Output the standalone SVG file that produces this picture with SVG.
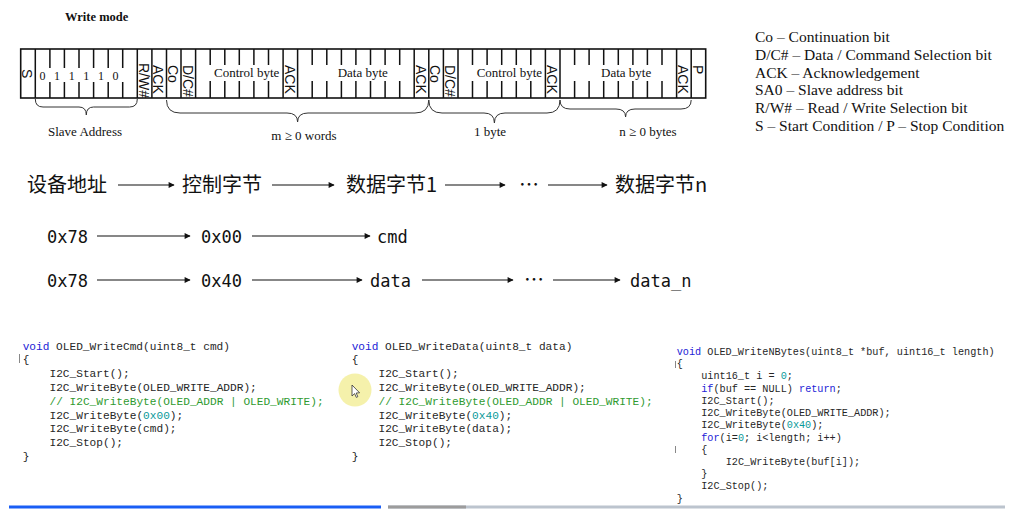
<svg xmlns="http://www.w3.org/2000/svg" width="1014" height="525" viewBox="0 0 1014 525">
<defs>
<style>
.serif{font-family:"Liberation Serif","Times New Roman",serif;fill:#111}
.rot{font-family:"Liberation Sans",Arial,sans-serif;font-size:14px;fill:#111}
.cn{font-family:"Noto Sans CJK SC",sans-serif;font-size:20px;fill:#111}
.mono{font-family:"DejaVu Sans Mono",monospace;font-size:17px;fill:#111}
.code{font-family:"Liberation Mono","Courier New",monospace;font-size:11.15px;fill:#262626}
.code3{font-family:"Liberation Mono","Courier New",monospace;font-size:10.2px;fill:#262626}
.kw{fill:#2323d6}
.num{fill:#0a9a9a}
.cm{fill:#2f9a2f}
.frame{fill:none;stroke:#111;stroke-width:1.6}
.div{stroke:#111;stroke-width:1.5;fill:none}
.brace{fill:none;stroke:#333;stroke-width:1}
.arr{stroke:#111;stroke-width:1.2;fill:none;marker-end:url(#ah)}
</style>
<marker id="ah" viewBox="0 0 10 10" refX="9" refY="5" markerWidth="7" markerHeight="6" markerUnits="userSpaceOnUse" orient="auto">
<path d="M0,0 L10,5 L0,10 z" fill="#111"/>
</marker>
</defs>
<rect width="1014" height="525" fill="#fff"/>

<g id="frame">
<text class="serif" x="65" y="21" font-size="12.5" font-weight="bold">Write mode</text>
<rect class="frame" x="20.7" y="49" width="685" height="49"/>
<path class="div" d="M35.3,49V98 M137.3,49V98 M151.9,49V98 M166.5,49V98 M181,49V98 M195.6,49V98 M283.1,49V98 M297.6,49V98 M414.2,49V98 M428.8,49V98 M443.4,49V98 M458,49V98 M545.4,49V98 M560,49V98 M676.6,49V98 M691.2,49V98"/>
<path class="div" d="M49.9,49V68 M64.4,49V68 M79,49V68 M93.6,49V68 M108.2,49V68 M122.7,49V68 M49.9,82V98 M64.4,82V98 M79,82V98 M93.6,82V98 M108.2,82V98 M122.7,82V98"/>
<path class="div" d="M210.2,49V65 M224.8,49V65 M239.3,49V65 M253.9,49V65 M268.5,49V65 M210.2,81V98 M224.8,81V98 M239.3,81V98 M253.9,81V98 M268.5,81V98"/>
<path class="div" d="M312.2,49V65 M326.8,49V65 M341.4,49V65 M355.9,49V65 M370.5,49V65 M385.1,49V65 M399.7,49V65 M312.2,81V98 M326.8,81V98 M341.4,81V98 M355.9,81V98 M370.5,81V98 M385.1,81V98 M399.7,81V98"/>
<path class="div" d="M472.5,49V65 M487.1,49V65 M501.7,49V65 M516.3,49V65 M530.8,49V65 M472.5,81V98 M487.1,81V98 M501.7,81V98 M516.3,81V98 M530.8,81V98"/>
<path class="div" d="M574.6,49V65 M589.1,49V65 M603.7,49V65 M618.3,49V65 M632.9,49V65 M647.4,49V65 M662,49V65 M574.6,81V98 M589.1,81V98 M603.7,81V98 M618.3,81V98 M632.9,81V98 M647.4,81V98 M662,81V98"/>

<g class="serif" font-size="12" text-anchor="middle">
<text x="42.6" y="80">0</text><text x="57.1" y="80">1</text><text x="71.7" y="80">1</text><text x="86.3" y="80">1</text><text x="100.9" y="80">1</text><text x="115.4" y="80">0</text>
</g>
<g class="serif" font-size="13">
<text x="214" y="77">Control byte</text>
<text x="337.7" y="77">Data byte</text>
<text x="476.7" y="77">Control byte</text>
<text x="601" y="77">Data byte</text>
</g>
<g class="rot">
<text transform="translate(22.4,69) rotate(90)">S</text>
<text transform="translate(138.8,63) rotate(90)">R/W#</text>
<text transform="translate(153.4,65) rotate(90)">ACK</text>
<text transform="translate(168,65) rotate(90)">Co</text>
<text transform="translate(182.5,65) rotate(90)">D/C#</text>
<text transform="translate(284.6,65) rotate(90)">ACK</text>
<text transform="translate(415.7,65) rotate(90)">ACK</text>
<text transform="translate(430.3,65) rotate(90)">Co</text>
<text transform="translate(444.9,65) rotate(90)">D/C#</text>
<text transform="translate(546.9,65) rotate(90)">ACK</text>
<text transform="translate(678.1,65) rotate(90)">ACK</text>
<text transform="translate(692.7,65) rotate(90)">P</text>
</g>
</g>

<g id="braces">
<path class="brace" d="M35.3,99 Q35.3,107 43,107 L79,107 Q86.3,107 86.3,115 Q86.3,107 93.6,107 L129.6,107 Q137.3,107 137.3,99"/>
<path class="brace" d="M166.5,100 Q166.5,113 180,113 L287,113 Q297.6,113 297.6,122 Q297.6,113 308,113 L415,113 Q428.8,113 428.8,100"/>
<path class="brace" d="M428.8,100 Q428.8,113 442,113 L484,113 Q494.4,113 494.4,123 Q494.4,113 505,113 L547,113 Q560,113 560,100"/>
<path class="brace" d="M560,100 Q560,109 570,109 L616,109 Q625.6,109 625.6,117 Q625.6,109 635,109 L681,109 Q691.2,109 691.2,100"/>
<g class="serif" font-size="13" text-anchor="middle">
<text x="85" y="136">Slave Address</text>
<text x="304" y="140">m ≥ 0 words</text>
<text x="490" y="136">1 byte</text>
<text x="648" y="136">n  ≥  0 bytes</text>
</g>
</g>

<g id="legend" class="serif" font-size="15.5">
<text x="755" y="42">Co – Continuation bit</text>
<text x="755" y="59.8">D/C# – Data / Command Selection bit</text>
<text x="755" y="77.6">ACK – Acknowledgement</text>
<text x="755" y="95.4">SA0 – Slave address bit</text>
<text x="755" y="113.2">R/W# – Read / Write Selection bit</text>
<text x="755" y="131">S – Start Condition / P – Stop Condition</text>
</g>

<g id="flow1">
<g id="n-addr"><text class="cn" x="27" y="192">设备地址</text></g>
<g id="n-ctrl"><text class="cn" x="182" y="192">控制字节</text></g>
<g id="n-data1"><text class="cn" x="346" y="192">数据字节1</text></g>
<g id="n-dots1"><text class="cn" x="519" y="192">…</text></g>
<g id="n-datan"><text class="cn" x="615" y="192">数据字节n</text></g>
</g>
<g id="flow2">
<g id="n-78a"><text class="mono" x="47" y="243">0x78</text></g>
<g id="n-00"><text class="mono" x="201" y="243">0x00</text></g>
<g id="n-cmd"><text class="mono" x="377" y="243">cmd</text></g>
</g>
<g id="flow3">
<g id="n-78b"><text class="mono" x="47" y="287">0x78</text></g>
<g id="n-40"><text class="mono" x="201" y="287">0x40</text></g>
<g id="n-data"><text class="mono" x="370" y="287">data</text></g>
<g id="n-dots2"><text class="cn" x="524" y="287" font-size="18">…</text></g>
<g id="n-datan2"><text class="mono" x="630" y="287">data_n</text></g>
</g>

<g id="connectors">
<line class="arr" x1="118" y1="185" x2="174" y2="185"/>
<line class="arr" x1="272" y1="185" x2="334" y2="185"/>
<line class="arr" x1="445" y1="185" x2="505" y2="185"/>
<line class="arr" x1="548" y1="185" x2="607" y2="185"/>
<line class="arr" x1="97" y1="236" x2="190" y2="236"/>
<line class="arr" x1="252" y1="236" x2="370" y2="236"/>
<line class="arr" x1="97" y1="280" x2="190" y2="280"/>
<line class="arr" x1="252" y1="280" x2="362" y2="280"/>
<line class="arr" x1="422" y1="280" x2="513" y2="280"/>
<line class="arr" x1="553" y1="280" x2="620" y2="280"/>
</g>

<g id="code1" class="code">
<line x1="19.5" y1="354" x2="19.5" y2="363" stroke="#888" stroke-width="1"/>
<text x="22.7" y="349.5"><tspan class="kw">void</tspan> OLED_WriteCmd(uint8_t cmd)</text>
<text x="22.7" y="363.3">{</text>
<text x="49.5" y="377.1">I2C_Start();</text>
<text x="49.5" y="390.9">I2C_WriteByte(OLED_WRITE_ADDR);</text>
<text x="49.5" y="404.7" class="cm">// I2C_WriteByte(OLED_ADDR | OLED_WRITE);</text>
<text x="49.5" y="418.5">I2C_WriteByte(<tspan class="num">0x00</tspan>);</text>
<text x="49.5" y="432.3">I2C_WriteByte(cmd);</text>
<text x="49.5" y="446.1">I2C_Stop();</text>
<text x="22.7" y="459.9">}</text>
</g>

<g id="code2" class="code">
<text x="351.7" y="349.5"><tspan class="kw">void</tspan> OLED_WriteData(uint8_t data)</text>
<text x="351.7" y="363.3">{</text>
<text x="378.5" y="377.1">I2C_Start();</text>
<text x="378.5" y="390.9">I2C_WriteByte(OLED_WRITE_ADDR);</text>
<text x="378.5" y="404.7" class="cm">// I2C_WriteByte(OLED_ADDR | OLED_WRITE);</text>
<text x="378.5" y="418.5">I2C_WriteByte(<tspan class="num">0x40</tspan>);</text>
<text x="378.5" y="432.3">I2C_WriteByte(data);</text>
<text x="378.5" y="446.1">I2C_Stop();</text>
<text x="351.7" y="459.9">}</text>
</g>

<g id="code3" class="code3">
<line x1="675.5" y1="361" x2="675.5" y2="368" stroke="#888" stroke-width="1"/>
<line x1="675.5" y1="446" x2="675.5" y2="453" stroke="#888" stroke-width="1"/>
<text x="676.7" y="355"><tspan class="kw">void</tspan> OLED_WriteNBytes(uint8_t *buf, uint16_t length)</text>
<text x="676.7" y="367.2">{</text>
<text x="701.2" y="379.4">uint16_t i = <tspan class="num">0</tspan>;</text>
<text x="701.2" y="391.7"><tspan class="kw">if</tspan>(buf == NULL) <tspan class="kw">return</tspan>;</text>
<text x="701.2" y="403.9">I2C_Start();</text>
<text x="701.2" y="416.1">I2C_WriteByte(OLED_WRITE_ADDR);</text>
<text x="701.2" y="428.3">I2C_WriteByte(<tspan class="num">0x40</tspan>);</text>
<text x="701.2" y="440.5"><tspan class="kw">for</tspan>(i=<tspan class="num">0</tspan>; i&lt;length; i++)</text>
<text x="701.2" y="452.8">{</text>
<text x="725.7" y="465">I2C_WriteByte(buf[i]);</text>
<text x="701.2" y="477.2">}</text>
<text x="701.2" y="489.4">I2C_Stop();</text>
<text x="676.7" y="501.6">}</text>
</g>

<g id="screen">
<circle cx="355" cy="390" r="16.5" fill="#f3ee9c" opacity="0.85"/>
<path d="M352,385 L352,396 L354.6,393.6 L356.3,397.4 L357.8,396.7 L356.2,393 L359.6,392.8 Z" fill="#fff" stroke="#333" stroke-width="0.8"/>
<rect x="9" y="505.5" width="372" height="3" fill="#1a5ef5"/>
<rect x="388" y="505.5" width="617" height="3" fill="#bcc4ce"/>
<rect x="388" y="505.5" width="78" height="3" fill="#9c9c9c"/>
</g>
</svg>
